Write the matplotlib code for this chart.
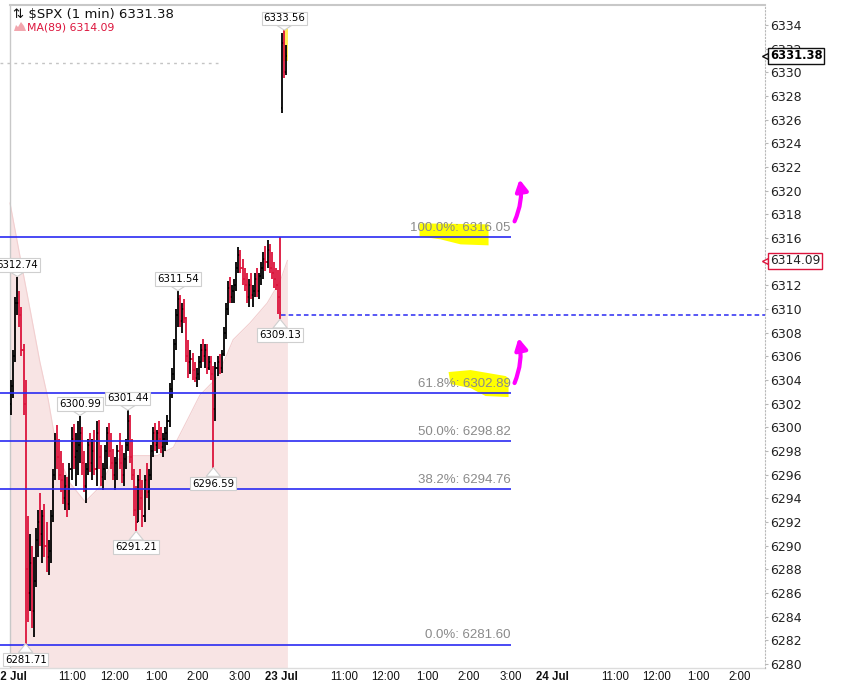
import numpy as np
import matplotlib
matplotlib.use('Agg')
import matplotlib.pyplot as plt
import matplotlib.transforms as mtransforms
from matplotlib.collections import LineCollection
from matplotlib.patches import Polygon, Rectangle

plt.rcParams['font.family'] = ['DejaVu Sans']

# ---------------------------------------------------------------------------
# Data (3-minute bars, 22 Jul full session + 23 Jul open)
# ---------------------------------------------------------------------------
bar_high = [
    6304.0, 6306.5, 6311.0, 6312.74, 6311.5, 6310.2, 6307.0, 6304.0, 6292.5, 6291.0,
    6290.0, 6289.0, 6291.5, 6293.0, 6294.4, 6293.0, 6293.5, 6292.0, 6290.5, 6293.0,
    6296.5, 6299.5, 6300.2, 6299.0, 6298.0, 6297.0, 6296.0, 6295.8, 6297.0, 6300.0,
    6300.3, 6299.5, 6300.5, 6300.99, 6300.0, 6298.0, 6297.0, 6299.0, 6299.5, 6299.0,
    6299.8, 6300.5, 6300.6, 6298.5, 6297.0, 6298.5, 6300.0, 6300.4, 6299.5, 6298.2,
    6297.5, 6298.5, 6299.5, 6298.5, 6297.8, 6299.0, 6301.44, 6301.0, 6299.0, 6296.5,
    6295.0, 6296.0, 6296.5, 6295.5, 6296.0, 6297.0, 6296.5, 6298.5, 6300.0, 6300.4,
    6299.8, 6300.5, 6300.0, 6299.5, 6300.0, 6301.0, 6303.7, 6305.0, 6307.5, 6310.0,
    6311.54, 6311.2, 6310.5, 6310.8, 6309.3, 6307.4, 6306.5, 6306.3, 6305.5, 6305.0,
    6306.0, 6307.0, 6307.5, 6307.0, 6307.0, 6306.0, 6306.0, 6305.2, 6305.5, 6306.0,
    6306.2, 6306.5, 6308.5, 6310.5, 6312.4, 6312.7, 6312.0, 6312.5, 6314.0, 6315.2,
    6315.0, 6314.2, 6313.5, 6313.0, 6312.5, 6313.0, 6312.0, 6313.0, 6313.5, 6313.0,
    6314.0, 6314.8, 6315.3, 6315.8, 6315.5, 6314.8, 6314.0, 6313.5, 6313.3, 6316.05,
    6333.3, 6333.56, 6332.3,
]
bar_low = [
    6301.0, 6302.5, 6305.5, 6309.5, 6308.5, 6306.0, 6301.0, 6281.71, 6283.5, 6284.5,
    6283.0, 6282.3, 6286.5, 6289.0, 6290.0, 6288.5, 6289.0, 6287.8, 6287.5, 6288.5,
    6292.0, 6295.5, 6296.5, 6295.5, 6294.5, 6293.5, 6293.0, 6292.4, 6293.0, 6295.5,
    6296.5, 6295.0, 6296.0, 6297.0, 6296.0, 6294.5, 6293.6, 6296.0, 6296.2, 6295.5,
    6296.0, 6295.0, 6296.5, 6295.0, 6294.7, 6295.5, 6296.5, 6297.5, 6296.5, 6295.5,
    6294.7, 6295.5, 6296.5, 6295.3, 6295.0, 6296.5, 6298.0, 6297.0, 6295.5, 6292.5,
    6291.21, 6292.0, 6293.0, 6291.6, 6292.0, 6294.0, 6293.0, 6295.5, 6297.5, 6298.0,
    6297.8, 6298.2, 6297.8, 6297.5, 6298.0, 6298.5, 6300.0, 6302.5, 6304.0, 6306.5,
    6308.5, 6308.5, 6308.0, 6308.8, 6305.5, 6304.2, 6304.5, 6304.0, 6303.8, 6303.4,
    6304.0, 6305.0, 6305.5, 6305.0, 6304.5, 6304.8, 6304.0, 6296.59, 6300.5, 6304.3,
    6304.5, 6304.6, 6306.0, 6307.5, 6309.5, 6310.5, 6310.5, 6310.5, 6311.5, 6313.0,
    6313.0, 6312.0, 6311.5, 6310.5, 6310.2, 6310.8, 6310.2, 6311.0, 6311.0, 6310.8,
    6312.0, 6312.5, 6313.2, 6313.5, 6313.0, 6312.5, 6311.8, 6311.6, 6309.6, 6309.13,
    6326.6, 6329.5, 6329.8,
]
bar_close = [
    6303.5, 6306.0, 6310.5, 6310.5, 6309.5, 6306.5, 6302.0, 6288.0, 6286.0, 6288.5,
    6284.5, 6287.0, 6290.5, 6292.0, 6291.0, 6292.5, 6290.0, 6289.0, 6289.5, 6292.5,
    6296.0, 6298.8, 6297.5, 6296.0, 6295.5, 6294.0, 6295.0, 6293.5, 6296.5, 6299.0,
    6297.5, 6298.0, 6298.5, 6299.5, 6297.0, 6295.0, 6296.5, 6298.5, 6297.0, 6298.0,
    6296.5, 6299.5, 6297.5, 6295.8, 6296.5, 6298.0, 6299.5, 6298.0, 6297.0, 6296.0,
    6297.0, 6298.0, 6297.0, 6296.0, 6297.3, 6298.5, 6300.5, 6297.5, 6296.0, 6293.0,
    6292.0, 6295.5, 6294.0, 6292.5, 6295.5, 6294.5, 6296.0, 6298.0, 6299.5, 6298.5,
    6299.5, 6299.0, 6298.3, 6299.0, 6299.5, 6300.5, 6303.2, 6304.5, 6307.0, 6309.5,
    6310.8, 6309.0, 6310.0, 6309.2, 6306.0, 6305.5, 6305.8, 6304.8, 6304.2, 6304.5,
    6305.5, 6306.5, 6306.0, 6306.5, 6305.0, 6305.5, 6304.5, 6301.5, 6305.0, 6305.5,
    6305.0, 6306.2, 6308.0, 6310.0, 6311.8, 6311.0, 6311.5, 6312.0, 6313.5, 6314.6,
    6313.5, 6312.5, 6312.0, 6311.0, 6312.0, 6311.2, 6311.5, 6312.5, 6311.5, 6312.8,
    6313.5, 6314.2, 6314.0, 6315.0, 6313.5, 6313.0, 6312.5, 6312.0, 6311.0, 6309.62,
    6332.5, 6330.0, 6331.38,
]
session_opens = {0: 6302.0, 130: 6327.0}   # gap opens at the session starts
BAR_MINUTES = 3

# MA(89) outline (minutes from 22 Jul 9:30)
ma_minutes = [0, 14, 29, 43, 55, 65, 75, 86, 108, 130, 148, 177, 212, 235,
              255, 273, 298, 321, 345, 370, 389, 399]
ma_values = [6318.95, 6314.55, 6309.9, 6305.5, 6302.3, 6298.9, 6296.8, 6295.3,
             6293.7, 6295.0, 6297.2, 6297.6, 6297.6, 6298.3, 6300.6, 6302.7,
             6304.2, 6307.4, 6308.8, 6310.5, 6312.4, 6314.09]

fib_pcts = ['100.0%', '61.8%', '50.0%', '38.2%', '0.0%']
fib_levels = [6316.05, 6302.89, 6298.82, 6294.76, 6281.60]
fib_end = 720          # 3:00 pm on 23 Jul

prev_close = 6309.45
prev_close_start = 390
ref_level = 6330.8
ref_end = 299
last_price = 6331.38
ma_last = 6314.09

high_labels = [6312.74, 6300.99, 6301.44, 6311.54, 6333.56]
low_labels = [6281.71, 6291.21, 6296.59, 6309.13]

tick_minutes = [0, 90, 150, 210, 270, 330, 390, 480, 540, 600, 660, 720,
                780, 870, 930, 990, 1050]
tick_labels = ['22 Jul', '11:00', '12:00', '1:00', '2:00', '3:00', '23 Jul',
               '11:00', '12:00', '1:00', '2:00', '3:00', '24 Jul',
               '11:00', '12:00', '1:00', '2:00']

# ---------------------------------------------------------------------------
W, H = 850, 680
CRIMSON = '#dc143c'
BLUE = '#2a2af2'

fig = plt.figure(figsize=(W / 100, H / 100), dpi=100)
ax = fig.add_axes([0, 12 / H, 765 / W, 663 / H])
xlim = (-14.4, 1086.0)
ylim = (6279.65, 6335.69)
ax.set_xlim(*xlim)
ax.set_ylim(*ylim)

for s in ('top', 'left', 'bottom'):
    ax.spines[s].set_visible(False)
ax.spines['right'].set_color('#b8b8b8')
ax.spines['right'].set_linestyle((0, (1, 2)))

ax.yaxis.tick_right()
ax.set_yticks(np.arange(6280, 6335, 2))
ax.tick_params(axis='y', length=2, color='#b8b8b8', pad=2, labelsize=9,
               labelcolor='#222222')
ax.set_xticks(tick_minutes, tick_labels)
ax.tick_params(axis='x', length=0, pad=2, labelsize=8.3, labelcolor='#111111')
for lab in ax.get_xticklabels():
    lab.set_family('Liberation Sans')
    if 'Jul' in lab.get_text():
        lab.set_fontweight('bold')

# frame pieces: top border, session separator, bottom line
x0_frac = (0 - xlim[0]) / (xlim[1] - xlim[0])
ax.axhline(ylim[1], xmin=x0_frac, xmax=1, color='#c8c8c8', lw=1.5, clip_on=False)
ax.axhline(ylim[0], color='#dcdcdc', lw=1, clip_on=False)
ax.axvline(0, color='#c8c8c8', lw=1)

# MA(89) mountain
ax.fill_between(ma_minutes, ma_values, ylim[0], color='#f8e4e4', lw=0, zorder=1)
ax.plot(ma_minutes, ma_values, color='#f2cfd0', lw=0.8, zorder=1.1)

# OHLC bars
high = np.array(bar_high)
low = np.array(bar_low)
close = np.array(bar_close)
n = len(close)
xb = np.arange(n) * BAR_MINUTES + BAR_MINUTES / 2
opens = np.r_[np.nan, close[:-1]]
for i, v in session_opens.items():
    opens[i] = v
colors = np.where(close >= opens, '#000000', CRIMSON)
segs, cols = [], []
tk = 1.5
for i in range(n):
    segs += [[(xb[i], low[i]), (xb[i], high[i])],
             [(xb[i] - tk, opens[i]), (xb[i], opens[i])],
             [(xb[i], close[i]), (xb[i] + tk, close[i])]]
    cols += [colors[i]] * 3
ax.add_collection(LineCollection(segs, colors=cols, linewidths=1.3, zorder=3))

# highlight over the new session's bars
ax.add_patch(Rectangle((xb[131] - 2.0, last_price - 0.4), 7.0,
                       high[131] - last_price + 0.6, color='#ffe83a',
                       alpha=0.85, lw=0, zorder=2.5))

# reference lines
ax.hlines(ref_level, xlim[0], ref_end, color='#c4c4c4', lw=1,
          linestyles=(0, (2, 3)), zorder=2)
ax.hlines(prev_close, prev_close_start, xlim[1], color=BLUE, lw=1.1,
          linestyles=(0, (3, 2)), zorder=4)

# Fibonacci retracement
for pct, lvl in zip(fib_pcts, fib_levels):
    ax.hlines(lvl, xlim[0], fib_end, color=BLUE, lw=1.2, zorder=4)
    ax.annotate(f'{pct}: {lvl:.2f}', xy=(fib_end, lvl), xytext=(0, 2.5),
                textcoords='offset points', ha='right', va='bottom',
                color='#8a8a8a', fontsize=9.5, family='Liberation Sans', zorder=6)


def near(v, ref):
    """transform whose origin sits on a data point, units in inches"""
    return fig.dpi_scale_trans + mtransforms.ScaledTranslation(v, ref, ax.transData)


# yellow marker highlights on two fib labels (pixel offsets / 100 = inches)
hl_top = [(-91, 14), (-22, 13), (-22, -8), (-50, -7), (-70, -2), (-91, 1)]
hl_mid = [(-62, 21), (-40, 23), (-5, 17), (-2, 15), (-2, -4), (-25, -3),
          (-40, 5), (-60, 9)]
for pts, lvl in ((hl_top, fib_levels[0]), (hl_mid, fib_levels[1])):
    ax.add_patch(Polygon(np.array(pts) / 100.0, closed=True, fc='#ffff00',
                         ec='none', transform=near(fib_end, lvl), zorder=3.5,
                         clip_on=False))

# magenta hand-drawn arrows
for lvl, tail, tip in ((fib_levels[0], (0.04, 0.16), (0.09, 0.58)),
                       (fib_levels[1], (0.04, 0.10), (0.08, 0.55))):
    t = near(fib_end, lvl)
    ax.annotate('', xy=tip, xycoords=t, xytext=tail, textcoords=t,
                arrowprops=dict(arrowstyle='-|>,head_length=0.55,head_width=0.3',
                                color='#ff00ff', lw=3, mutation_scale=12,
                                shrinkA=0, shrinkB=0,
                                connectionstyle='arc3,rad=0.15'), zorder=7)

# price call-out boxes
box = dict(boxstyle='square,pad=0.18', fc='white', ec='#cfcfcf', lw=0.8)
wedge = dict(arrowstyle='wedge,tail_width=1.4', fc='white', ec='#cfcfcf',
             lw=0.8, shrinkA=0, shrinkB=0)
for v in high_labels:
    i = int(np.argmin(np.abs(high - v)))
    ax.annotate(f'{v:.2f}', xy=(xb[i], v), xytext=(0, 8.5),
                textcoords='offset points', ha='center', va='center',
                fontsize=7.3, bbox=box, arrowprops=wedge, zorder=6,
                annotation_clip=False)
for v in low_labels:
    i = int(np.argmin(np.abs(low - v)))
    ax.annotate(f'{v:.2f}', xy=(xb[i], v), xytext=(0, -11.5),
                textcoords='offset points', ha='center', va='center',
                fontsize=7.3, bbox=box, arrowprops=wedge, zorder=6,
                annotation_clip=False)

# right-axis value tags
edge = mtransforms.blended_transform_factory(ax.transAxes, ax.transData)
for val, ec, tc, wt in ((last_price, '#111111', '#000000', 'bold'),
                        (ma_last, CRIMSON, '#222222', 'normal')):
    ax.plot([1.0], [val], marker='<', ms=5, mfc='white', mec=ec, mew=1,
            transform=edge, clip_on=False, zorder=8)
    ax.annotate(f'{val:.2f}', xy=(1.0, val), xycoords=edge, xytext=(3.5, 0),
                textcoords='offset points', ha='left', va='center',
                fontsize=8.3 if wt == 'bold' else 8.8, fontweight=wt, color=tc,
                bbox=dict(boxstyle='square,pad=0.12', fc='white', ec=ec, lw=1),
                annotation_clip=False, zorder=9)

# header / legend
fig.text(13 / W, 1 - 14 / H, f'\u21c5 $SPX (1 min) {last_price:.2f}',
         fontsize=9.5, va='center', ha='left', color='#111111')
icon = np.array([(14, 31), (16, 25), (18, 27), (21, 22), (24, 26), (26, 31)], float)
icon[:, 1] = H - icon[:, 1]
fig.patches.append(Polygon(icon, closed=True, fc='#f2a6ae', ec='none',
                           transform=mtransforms.IdentityTransform()))
fig.text(27 / W, 1 - 27 / H, f'MA(89) {ma_last:.2f}', fontsize=7.8,
         va='center', ha='left', color=CRIMSON)

fig.savefig('out.png', dpi=100)
